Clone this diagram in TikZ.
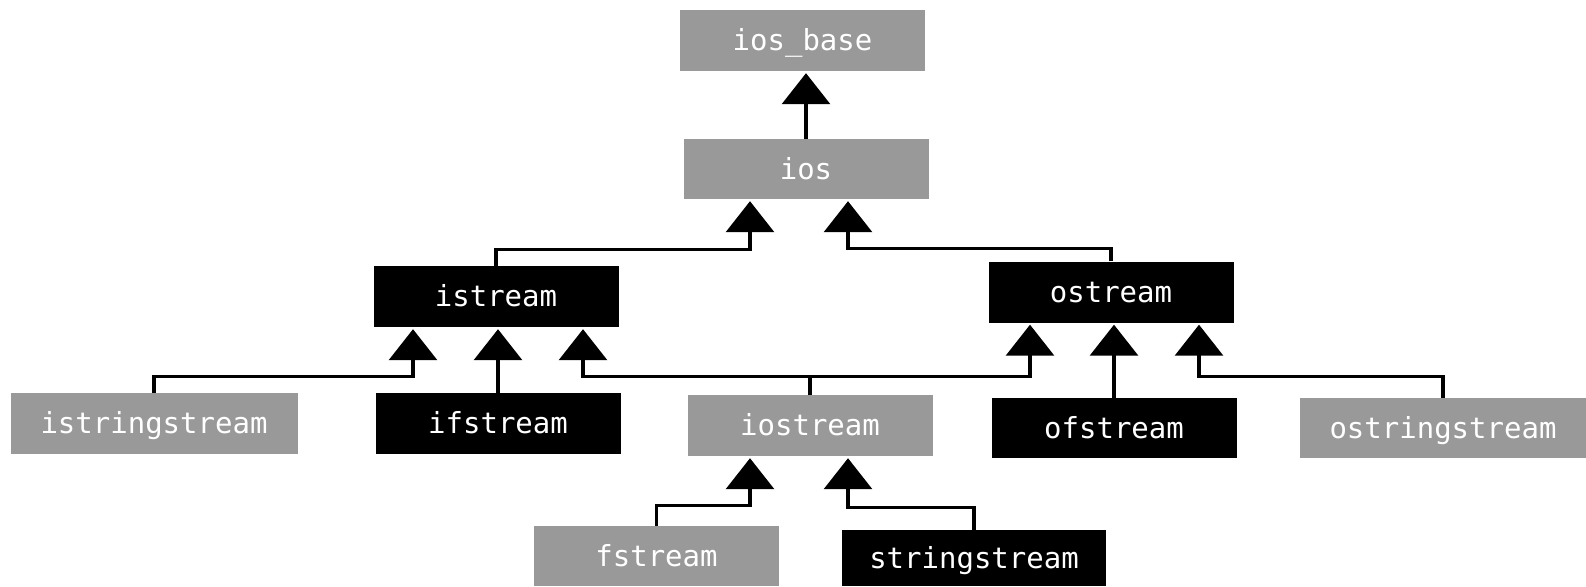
\documentclass[tikz,border=0pt]{standalone}
\usepackage{fontspec}
\setmonofont{DejaVu Sans Mono}
\usetikzlibrary{arrows.meta}
\definecolor{boxgray}{RGB}{153,153,153}
\begin{document}
\begin{tikzpicture}[x=1pt,y=-1pt,
  cls/.style={minimum width=245pt, minimum height=61pt, inner sep=0pt, text=white,
    text height=20pt, text depth=0pt,
    font=\ttfamily\fontsize{29}{33}\selectfont},
  grayc/.style={cls, fill=boxgray},
  blackc/.style={cls, fill=black},
  inh/.style={line width=3.3pt, -{Triangle[width=48pt,length=31pt]}, shorten >=2pt}]
\useasboundingbox (0,0) rectangle (1586,586);

\node[grayc] (iosbase) at (802.5,40.5) {ios\_base};
\node[grayc, minimum height=60pt] (ios) at (806,169) {ios};
\node[blackc] (istream) at (496,296.5) {istream};
\node[blackc] (ostream) at (1111,292) {ostream};
\node[grayc, minimum width=287pt] (istringstream) at (154,423.5) {istringstream};
\node[blackc] (ifstream) at (498,423.5) {ifstream};
\node[grayc] (iostream) at (810,425.5) {iostream};
\node[blackc, minimum height=60pt] (ofstream) at (1114,428) {ofstream};
\node[grayc, minimum width=286pt, minimum height=60pt] (ostringstream) at (1443,428) {ostringstream};
\node[grayc, minimum height=60pt] (fstream) at (656.5,556) {fstream};
\node[blackc, minimum width=264pt, minimum height=56pt] (stringstream) at (974,558) {stringstream};

\draw[inh] (ios.north) -- (ios.north |- iosbase.south);
\draw[inh] (istream.north) -- ++(0,-16) -| ([xshift=-56pt]ios.south);
\draw[inh] (ostream.north) -- ++(0,-13) -| ([xshift=42pt]ios.south);
\draw[inh] (istringstream.north) -- ++(0,-16) -| ([xshift=-83pt]istream.south);
\draw[inh] (ifstream.north) -- (ifstream.north |- istream.south);
\draw[inh] (iostream.north) -- ++(0,-18) -| ([xshift=87pt]istream.south);
\draw[inh] (iostream.north) -- ++(0,-18) -| ([xshift=-81pt]ostream.south);
\draw[inh] (ofstream.north) -- (ofstream.north |- ostream.south);
\draw[inh] (ostringstream.north) -- ++(0,-21) -| ([xshift=88pt]ostream.south);
\draw[inh] (fstream.north) -- ++(0,-20) -| ([xshift=-60pt]iostream.south);
\draw[inh] (stringstream.north) -- ++(0,-22) -| ([xshift=38pt]iostream.south);
\end{tikzpicture}
\end{document}
